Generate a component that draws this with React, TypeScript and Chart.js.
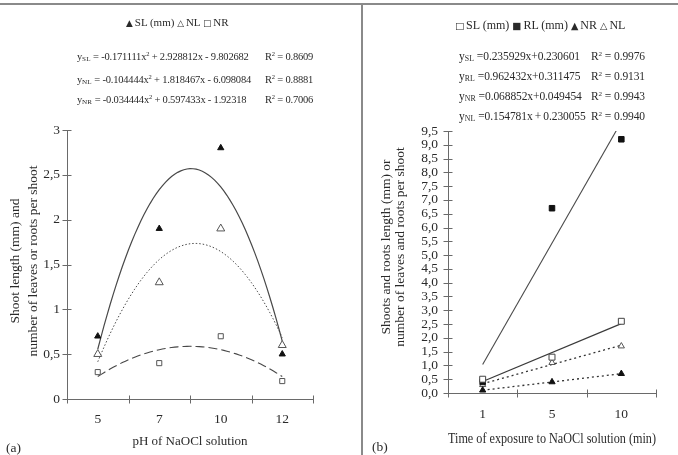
import React, { useEffect, useRef } from "react";
import { Chart, registerables } from "chart.js";

Chart.register(...registerables);

// Panel (a): effect of NaOCl solution pH
const phCategories = ["5", "7", "10", "12"];
const phShootLength = [0.7, 1.9, 2.8, 0.5];
const phLeaves = [0.5, 1.3, 1.9, 0.6];
const phRoots = [0.3, 0.4, 0.7, 0.2];
const phTickValues = [0, 0.5, 1, 1.5, 2, 2.5, 3];
const phTickLabels = ["0", "0,5", "1", "1,5", "2", "2,5", "3"];

// Panel (b): effect of exposure time
const timeCategories = ["1", "5", "10"];
const timeShootLength = [0.5, 1.3, 2.6];
const timeRootLength = [0.4, 6.7, 9.2];
const timeRoots = [0.1, 0.4, 0.7];
const timeLeaves = [0.3, 1.1, 1.7];
const timeTickValues = [
  0, 0.5, 1, 1.5, 2, 2.5, 3, 3.5, 4, 4.5, 5, 5.5, 6, 6.5, 7, 7.5, 8, 8.5, 9, 9.5,
];
const timeTickLabels = [
  "0,0", "0,5", "1,0", "1,5", "2,0", "2,5", "3,0", "3,5", "4,0", "4,5",
  "5,0", "5,5", "6,0", "6,5", "7,0", "7,5", "8,0", "8,5", "9,0", "9,5",
];

// Printed regression equations
const phEquations = [
  { sub: "SL", a: "-0.171111", b: "2.928812", c: "9.802682", r2: "0.8609" },
  { sub: "NL", a: "-0.104444", b: "1.818467", c: "6.098084", r2: "0.8881" },
  { sub: "NR", a: "-0.034444", b: "0.597433", c: "1.92318", r2: "0.7006" },
];
const timeEquations = [
  { sub: "SL", m: "0.235929", op: "+", c: "0.230601", r2: "0.9976" },
  { sub: "RL", m: "0.962432", op: "+", c: "0.311475", r2: "0.9131" },
  { sub: "NR", m: "0.068852", op: "+", c: "0.049454", r2: "0.9943" },
  { sub: "NL", m: "0.154781", op: "\u2009+\u2009", c: "0.230055", r2: "0.9940" },
];

const FONT = "'Liberation Serif', 'Times New Roman', serif";
const TEXT = "#2a2a2a";
const AXIS = "#6a6a6a";

// Least-squares polynomial trendline over the category positions 1..n
function polyfit(xs: number[], ys: number[], deg: number): number[] {
  const n = deg + 1;
  const A: number[][] = [];
  for (let r = 0; r < n; r++) {
    const row: number[] = [];
    for (let c = 0; c < n; c++) row.push(xs.reduce((s, x) => s + Math.pow(x, r + c), 0));
    row.push(xs.reduce((s, x, i) => s + ys[i] * Math.pow(x, r), 0));
    A.push(row);
  }
  for (let i = 0; i < n; i++) {
    let p = i;
    for (let k = i + 1; k < n; k++) if (Math.abs(A[k][i]) > Math.abs(A[p][i])) p = k;
    [A[i], A[p]] = [A[p], A[i]];
    for (let k = i + 1; k < n; k++) {
      const f = A[k][i] / A[i][i];
      for (let j = i; j <= n; j++) A[k][j] -= f * A[i][j];
    }
  }
  const coef = new Array(n).fill(0);
  for (let i = n - 1; i >= 0; i--) {
    let s = A[i][n];
    for (let j = i + 1; j < n; j++) s -= A[i][j] * coef[j];
    coef[i] = s / A[i][i];
  }
  return coef;
}

function trend(values: number[], deg: number, step: number) {
  const xs = values.map((_, i) => i + 1);
  const coef = polyfit(xs, values, deg);
  const pts: { x: number; y: number }[] = [];
  for (let x = 1; x <= values.length + 1e-9; x += step) {
    pts.push({ x, y: coef.reduce((s, c, k) => s + c * Math.pow(x, k), 0) });
  }
  return pts;
}

const asPoints = (values: number[]) => values.map((y, i) => ({ x: i + 1, y }));

// Axis lines with tick marks that cross the axis
const crossAxes = {
  id: "crossAxes",
  beforeDatasetsDraw(chart: any, _args: any, opts: any) {
    const { ctx, chartArea, scales } = chart;
    const xs = scales.x;
    const ys = scales.y;
    const L = opts.len ?? 4;
    ctx.save();
    ctx.strokeStyle = AXIS;
    ctx.lineWidth = 1;
    ctx.beginPath();
    const ax = Math.round(chartArea.left) + 0.5;
    const ay = Math.round(chartArea.bottom) + 0.5;
    ctx.moveTo(ax, chartArea.top);
    ctx.lineTo(ax, ay);
    ctx.moveTo(ax, ay);
    ctx.lineTo(chartArea.right, ay);
    ys.ticks.forEach((t: any) => {
      const py = Math.round(ys.getPixelForValue(t.value)) + 0.5;
      ctx.moveTo(ax - L - 1, py);
      ctx.lineTo(ax + L, py);
    });
    const n = opts.count as number;
    for (let i = 0; i <= n; i++) {
      const px = Math.round(xs.getPixelForValue(i + 0.5)) + 0.5;
      ctx.moveTo(px, ay - L);
      ctx.lineTo(px, ay + L);
    }
    ctx.stroke();
    ctx.restore();
  },
};

function buildScales(opts: {
  categories: string[];
  tickValues: number[];
  tickLabels: string[];
  yWidth: number;
  xHeight: number;
  yPad: number;
  xPad: number;
  title: string;
  titlePad: number;
  titleSize: number;
  tickSize: number;
}) {
  const n = opts.categories.length;
  return {
    x: {
      type: "linear" as const,
      min: 0.5,
      max: n + 0.5,
      grid: { display: false, drawTicks: false },
      border: { display: false },
      afterBuildTicks: (scale: any) => {
        scale.ticks = opts.categories.map((_, i) => ({ value: i + 1 }));
      },
      afterFit: (scale: any) => {
        scale.height = opts.xHeight;
      },
      ticks: {
        autoSkip: false,
        maxRotation: 0,
        padding: opts.xPad,
        color: TEXT,
        font: { family: FONT, size: opts.tickSize },
        callback: (v: any) => opts.categories[Math.round(v) - 1] ?? "",
      },
      title: {
        display: true,
        text: opts.title,
        color: TEXT,
        font: { family: FONT, size: opts.titleSize },
        padding: { top: 0, bottom: opts.titlePad },
      },
    },
    y: {
      type: "linear" as const,
      min: opts.tickValues[0],
      max: opts.tickValues[opts.tickValues.length - 1],
      grid: { display: false, drawTicks: false },
      border: { display: false },
      afterBuildTicks: (scale: any) => {
        scale.ticks = opts.tickValues.map((v) => ({ value: v }));
      },
      afterFit: (scale: any) => {
        scale.width = opts.yWidth;
      },
      ticks: {
        autoSkip: false,
        padding: opts.yPad,
        color: TEXT,
        font: { family: FONT, size: opts.tickSize },
        callback: (v: any) => {
          const i = opts.tickValues.findIndex((t) => Math.abs(t - v) < 1e-9);
          return i >= 0 ? opts.tickLabels[i] : "";
        },
      },
    },
  };
}

function markers(label: string, values: number[], style: string, r: number, fill: string, stroke: string) {
  return {
    label,
    data: asPoints(values),
    showLine: false,
    pointStyle: style,
    pointRadius: r,
    pointBackgroundColor: fill,
    pointBorderColor: stroke,
    pointBorderWidth: 1,
    order: 0,
  };
}

function trendLine(data: { x: number; y: number }[], color: string, width: number, dash: number[]) {
  return {
    data,
    showLine: true,
    pointRadius: 0,
    borderColor: color,
    borderWidth: width,
    borderDash: dash,
    tension: 0,
    fill: false,
    order: 1,
  };
}

function PhChart() {
  const ref = useRef<HTMLCanvasElement>(null);
  useEffect(() => {
    if (!ref.current) return;
    const chart = new Chart(ref.current, {
      type: "line",
      data: {
        datasets: [
          markers("SL (mm)", phShootLength, "triangle", 3.6, "#111", "#111"),
          markers("NL", phLeaves, "triangle", 4.6, "#fff", "#555"),
          markers("NR", phRoots, "rect", 3.6, "#fff", "#555"),
          trendLine(trend(phShootLength, 2, 0.05), "#484848", 1.2, []),
          trendLine(trend(phLeaves, 2, 0.05), "#4a4a4a", 1, [1.5, 2]),
          trendLine(trend(phRoots, 2, 0.05), "#484848", 1.1, [9, 4]),
        ] as any,
      },
      options: {
        animation: false,
        responsive: false,
        layout: { padding: { left: 0, top: 130, right: 48, bottom: 0 } },
        plugins: {
          legend: { display: false },
          tooltip: { enabled: false },
          crossAxes: { count: phCategories.length, len: 4 },
        } as any,
        scales: buildScales({
          categories: phCategories,
          tickValues: phTickValues,
          tickLabels: phTickLabels,
          yWidth: 67,
          xHeight: 56,
          yPad: 7,
          xPad: 12,
          title: "pH of NaOCl solution",
          titlePad: 6,
          titleSize: 13,
          tickSize: 13.5,
        }) as any,
      },
      plugins: [crossAxes],
    });
    return () => chart.destroy();
  }, []);
  return <canvas ref={ref} width={361} height={455} style={{ position: "absolute", left: 0, top: 0 }} />;
}

function TimeChart() {
  const ref = useRef<HTMLCanvasElement>(null);
  useEffect(() => {
    if (!ref.current) return;
    const chart = new Chart(ref.current, {
      type: "line",
      data: {
        datasets: [
          markers("SL (mm)", timeShootLength, "rect", 4.2, "#fff", "#444"),
          markers("RL (mm)", timeRootLength, "rect", 3.9, "#111", "#111"),
          markers("NR", timeRoots, "triangle", 3.6, "#111", "#111"),
          markers("NL", timeLeaves, "triangle", 3.6, "#fff", "#555"),
          trendLine(trend(timeShootLength, 1, 2), "#3a3a3a", 1.2, []),
          trendLine(trend(timeRootLength, 1, 2), "#4a4a4a", 1.1, []),
          trendLine(trend(timeRoots, 1, 2), "#333", 1.3, [2, 3]),
          trendLine(trend(timeLeaves, 1, 2), "#333", 1.3, [2, 3]),
        ] as any,
      },
      options: {
        animation: false,
        responsive: false,
        layout: { padding: { left: 0, top: 131, right: 22, bottom: 0 } },
        plugins: {
          legend: { display: false },
          tooltip: { enabled: false },
          crossAxes: { count: timeCategories.length, len: 4 },
        } as any,
        scales: buildScales({
          categories: timeCategories,
          tickValues: timeTickValues,
          tickLabels: timeTickLabels,
          yWidth: 84,
          xHeight: 62,
          yPad: 10,
          xPad: 13,
          title: "Time of exposure to NaOCl solution (min)",
          titlePad: 7,
          titleSize: 14.5,
          tickSize: 13.5,
        }) as any,
      },
      plugins: [crossAxes],
    });
    return () => chart.destroy();
  }, []);
  return <canvas ref={ref} width={314} height={455} style={{ position: "absolute", left: 364, top: 0 }} />;
}

const abs = (left: number, top: number, extra: React.CSSProperties = {}): React.CSSProperties => ({
  position: "absolute",
  left,
  top,
  whiteSpace: "nowrap",
  ...extra,
});

const subStyle: React.CSSProperties = { fontSize: "0.68em", verticalAlign: "-0.15em", letterSpacing: "0.02em" };
const supStyle: React.CSSProperties = { fontSize: "0.62em", verticalAlign: "0.55em" };
const sym: React.CSSProperties = { fontFamily: "'DejaVu Sans', sans-serif", fontSize: "0.8em", marginRight: 2 };

function YTitle({ cx, cy, lines, size, lh, width }: { cx: number; cy: number; lines: string[]; size: number; lh: number; width: number }) {
  const h = lh * lines.length;
  return (
    <div
      style={{
        position: "absolute",
        left: cx - width / 2,
        top: cy - h / 2,
        width,
        height: h,
        fontSize: size,
        lineHeight: `${lh}px`,
        textAlign: "center",
        whiteSpace: "nowrap",
        transform: "rotate(-90deg)",
        transformOrigin: "50% 50%",
      }}
    >
      {lines.map((l) => (
        <div key={l}>{l}</div>
      ))}
    </div>
  );
}

export default function App() {
  const phRowTops = [50, 73, 93];
  const timeRowTops = [50, 70, 90, 110];
  const phEqStyle = { fontSize: 10.5, letterSpacing: -0.2 };
  const timeEqStyle = { fontSize: 11.5, letterSpacing: -0.1 };
  return (
    <div
      style={{
        position: "fixed",
        left: 0,
        top: 0,
        width: 678,
        height: 455,
        background: "#fff",
        fontFamily: FONT,
        color: TEXT,
        overflow: "hidden",
      }}
    >
      <div style={{ position: "absolute", left: 0, top: 3, width: 678, height: 2, background: "#8a8a8a" }} />
      <div style={{ position: "absolute", left: 361, top: 3, width: 2, height: 452, background: "#8a8a8a" }} />

      <PhChart />
      <TimeChart />

      {/* panel (a) legend and equations */}
      <div style={abs(126, 16, { fontSize: 11 })}>
        <span style={sym}>▲</span>SL (mm) <span style={sym}>△</span>NL <span style={sym}>□</span>NR
      </div>
      {phEquations.map((e, i) => (
        <React.Fragment key={e.sub}>
          <div style={abs(77, phRowTops[i], phEqStyle)}>
            y<span style={subStyle}>{e.sub}</span> = {e.a}x<span style={supStyle}>2</span> + {e.b}x - {e.c}
          </div>
          <div style={abs(265, phRowTops[i], phEqStyle)}>
            R<span style={supStyle}>2</span> = {e.r2}
          </div>
        </React.Fragment>
      ))}

      {/* panel (b) legend and equations */}
      <div style={abs(455, 18, { fontSize: 12 })}>
        <span style={sym}>□</span>SL (mm) <span style={sym}>■</span>RL (mm) <span style={sym}>▲</span>NR{" "}
        <span style={sym}>△</span>NL
      </div>
      {timeEquations.map((e, i) => (
        <React.Fragment key={e.sub}>
          <div style={abs(459, timeRowTops[i], timeEqStyle)}>
            y<span style={subStyle}>{e.sub}</span> ={e.m}x{e.op}
            {e.c}
          </div>
          <div style={abs(591, timeRowTops[i], timeEqStyle)}>
            R<span style={supStyle}>2</span> = {e.r2}
          </div>
        </React.Fragment>
      ))}

      <YTitle cx={24} cy={261} lines={["Shoot length (mm) and", "number of leaves or roots per shoot"]} size={13.5} lh={18} width={240} />
      <YTitle
        cx={393}
        cy={247}
        lines={["Shoots and roots length (mm) or", "number of leaves and roots per shoot"]}
        size={13.5}
        lh={14}
        width={240}
      />

      <div style={abs(6, 440, { fontSize: 13.5 })}>(a)</div>
      <div style={abs(372, 439, { fontSize: 13.5 })}>(b)</div>
    </div>
  );
}
